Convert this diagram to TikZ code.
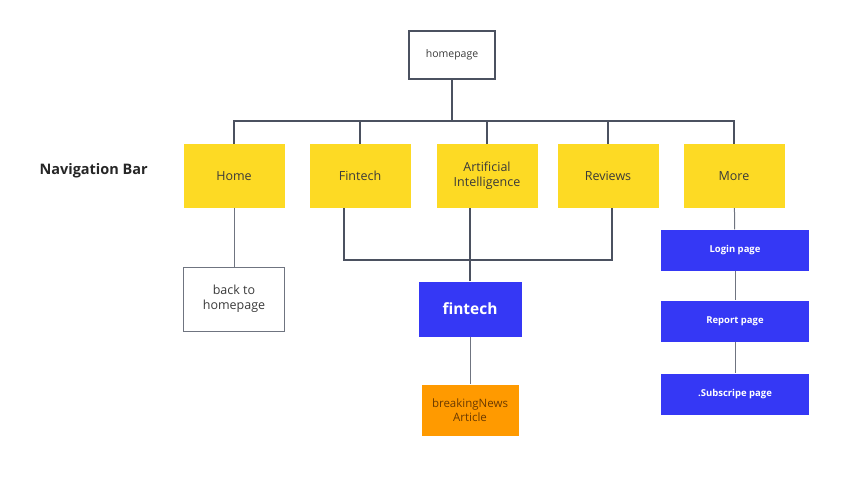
\documentclass[tikz,border=0pt]{standalone}
\usepackage{fontspec}
\setmainfont{Open Sans}
\usetikzlibrary{positioning}
\definecolor{tabYellow}{HTML}{FDDA24}
\definecolor{pageBlue}{HTML}{3538F5}
\definecolor{newsOrange}{HTML}{FF9A00}
\definecolor{newsText}{HTML}{6B3A00}
\definecolor{linkGray}{HTML}{4B5160}
\definecolor{textGray}{HTML}{3A3A3A}
\begin{document}
\begin{tikzpicture}
[x=1pt,y=-1pt,
  linkDecorate/.style={draw=linkGray,line width=1.6pt},%
  thinLink/.style={draw=linkGray!80,line width=1pt},%
  tabDecorate/.style={shape=rectangle,fill=tabYellow,minimum width=101pt,minimum height=64pt,
    align=center,text=textGray,font=\fontsize{12.5}{15}\selectfont},%
  pageDecorate/.style={shape=rectangle,fill=pageBlue,minimum width=148pt,minimum height=41pt,
    text=white,font=\fontsize{9.5}{11}\selectfont\bfseries}]
\useasboundingbox (0,0) rectangle (864,482);
%% top page
\node (homepage) at (452,55) [draw=linkGray,line width=1.8pt,minimum width=86pt,minimum height=48pt,
  text=textGray,font=\fontsize{10.5}{12}\selectfont] {homepage};
\node (navLabel) at (36,171) [anchor=west,font=\fontsize{14.5}{16}\selectfont\bfseries,text=black!85] {Navigation Bar};
%% navigation tabs
\foreach \nodename/\x/\txt in {
  home/234/Home, navFintech/360/Fintech, ai/487/{Artificial\\Intelligence},
  reviews/608/Reviews, more/734/More}
{
  \node (\nodename) at (\x,176) [tabDecorate] {\txt};
}
%% lower pages
\node (backHome) at (234,299) [draw=linkGray!80,line width=0.8pt,minimum width=101pt,minimum height=64pt,
  align=center,text=textGray,font=\fontsize{12.5}{15}\selectfont] {back to\\homepage};
\node (fintechPage) at (470,309) [shape=rectangle,fill=pageBlue,minimum width=103pt,minimum height=55pt,
  text=white,font=\fontsize{15.5}{17}\selectfont\bfseries] {fintech};
\node (news) at (470,410) [shape=rectangle,fill=newsOrange,minimum width=97pt,minimum height=51pt,
  align=center,text=newsText,font=\fontsize{11.5}{14}\selectfont] {breakingNews\\Article};
\foreach \nodename/\y/\txt in {login/250/Login page, report/321/Report page, subscribe/394/.Subscripe page}
{
  \node (\nodename) at (735,\y) [pageDecorate] {\txt};
}
%% edges or lines
\coordinate (bus) at (452,121);
\coordinate (join) at (468,260);
\draw[linkDecorate] (homepage.south) -- (bus);
\draw[linkDecorate] (home.north) -- (home.north |- bus) -- (more.north |- bus) -- (more.north);
\foreach \nodename in {navFintech, ai, reviews}
{
  \draw[linkDecorate] (\nodename.north) -- (\nodename.north |- bus);
}
\draw[linkDecorate] ([xshift=-16pt]navFintech.south) |- (join) -| ([xshift=4pt]reviews.south);
\draw[linkDecorate] (fintechPage.north) -- (fintechPage.north |- ai.south);
\path
\foreach \startnode/\endnode in {home/backHome, fintechPage/news, more/login, login/report, report/subscribe}
{
  (\startnode) edge[thinLink] (\endnode)
};
\end{tikzpicture}
\end{document}
